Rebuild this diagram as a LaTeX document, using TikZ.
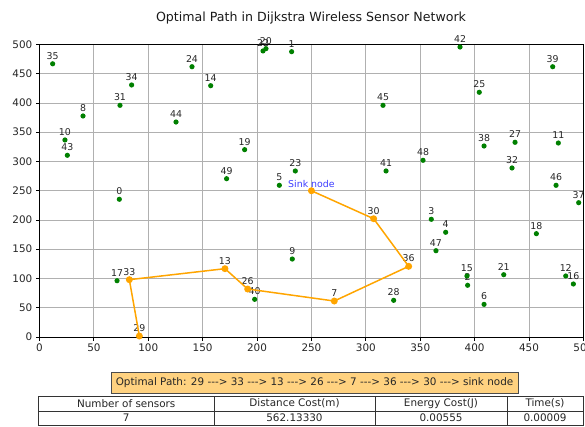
\documentclass[tikz,border=0pt]{standalone}
\usepackage{fontspec}
\setmainfont{DejaVu Sans}
\definecolor{mplgreen}{HTML}{008000}
\definecolor{mplorange}{HTML}{FFA500}
\definecolor{boxfill}{HTML}{FFD280}
\definecolor{gridgray}{HTML}{B0B0B0}
\definecolor{sinkblue}{HTML}{3C3CFF}
\newcommand{\myarr}{-\kern0pt-\kern0pt->}
\begin{document}
\begin{tikzpicture}[x=1pt,y=1pt,
  gdot/.style={circle,fill=mplgreen,inner sep=0pt,minimum size=5.2pt},
  odot/.style={circle,fill=mplorange,inner sep=0pt,minimum size=7pt},
  ptlabel/.style={anchor=base,inner sep=0pt,font=\fontsize{9.4}{11}\selectfont,text=black!85},
  ticklbl/.style={inner sep=0pt,font=\fontsize{10.4}{12}\selectfont,text=black!85},
  pathline/.style={draw=mplorange,line width=1.5pt,line join=round},
  cell/.style={inner sep=0pt,font=\fontsize{10.4}{12}\selectfont,text=black!85}
]
\useasboundingbox (0,0) rectangle (585,426);
% title
\node[anchor=base,inner sep=0pt,font=\fontsize{12.6}{14}\selectfont,text=black!90] (title) at (311,404.3) {Optimal Path in Dijkstra Wireless Sensor Network};
\begin{scope}[shift={(39.5,89)},x=1.0877pt,y=0.585pt]
  % grid
  \foreach \v in {0,50,...,500}{
    \draw[gridgray,line width=0.8pt] (\v,0) -- (\v,500);
    \draw[gridgray,line width=0.8pt] (0,\v) -- (500,\v);
    \draw[black,line width=0.8pt] (\v,0) -- ++(0,-3.5pt);
    \draw[black,line width=0.8pt] (0,\v) -- ++(-3.5pt,0);
    \node[ticklbl,anchor=north] (xt\v) at ([yshift=-7pt]\v,0) {\v};
    \node[ticklbl,anchor=base east] (yt\v) at ([xshift=-7pt,yshift=-3.7pt]0,\v) {\v};
  }
  \draw[black,line width=0.8pt] (0,0) rectangle (500,500);
  % green sensors
  \foreach \n/\a/\b in {0/73.4/235.4, 1/231.8/487.7, 2/393.6/88.4, 3/360.2/201.2, 4/373.4/179, 5/220.5/259.3, 6/408.7/55.8, 8/40/377.8, 9/232.4/133.3, 10/23.4/336.8, 11/477/331.6, 12/483.8/104.3, 14/157.4/429.6, 15/393/104.3, 16/490.8/90.6, 17/71.3/96.2, 18/456.8/176.6, 19/188.6/320.2, 20/208.2/492.9, 21/426.8/106.5, 22/205.5/489, 23/235.2/283.8, 24/140.2/462, 25/404.3/418.3, 27/437.2/332.8, 28/325.6/62.7, 31/74/396, 32/434.4/288.9, 34/84.7/430.8, 35/12.1/467, 37/495.7/229.6, 38/408.7/326.5, 39/471.8/462, 40/197.8/64.4, 41/318.6/283.8, 42/386.6/495.7, 43/25.6/310.6, 44/125.5/367.5, 45/315.8/396, 46/474.9/259.3, 47/364.5/147.5, 48/352.6/302, 49/172/270.6}{
    \node[gdot] (n\n) at (\a,\b) {};
    \node[ptlabel] (l\n) at ([yshift=4.5pt]n\n.center) {\n};
  }
  % path sensors
  \foreach \n/\a/\b in {29/91.8/1.7, 33/82.6/98, 13/170.5/116.8, 26/191.4/82, 7/271/61.5, 36/339.4/120.8, 30/307.2/202.2}{
    \node[odot] (n\n) at (\a,\b) {};
    \node[ptlabel] (l\n) at ([yshift=4.5pt]n\n.center) {\n};
  }
  \node[odot] (sink) at (250,250) {};
  \node[ptlabel,text=sinkblue] (lsink) at ([yshift=3pt]sink.center) {Sink node};
  \draw[pathline] (n29.center) -- (n33.center) -- (n13.center) -- (n26.center) -- (n7.center) -- (n36.center) -- (n30.center) -- (sink.center);
\end{scope}
% path box
\node[draw=black!70,line width=0.8pt,fill=boxfill,minimum width=407pt,minimum height=21pt,inner sep=0pt,font=\fontsize{10.4}{12}\selectfont,text=black!85] (pathbox) at (314.5,43.2) {Optimal Path: 29 \myarr{} 33 \myarr{} 13 \myarr{} 26 \myarr{} 7 \myarr{} 36 \myarr{} 30 \myarr{} sink node};
% table
\draw[black!80,line width=0.9pt] (38.5,0.6) rectangle (583,30);
\draw[black!80,line width=0.9pt] (38.5,15) -- (583,15);
\draw[black!80,line width=0.9pt] (214,0.6) -- (214,30);
\draw[black!80,line width=0.9pt] (375,0.6) -- (375,30);
\draw[black!80,line width=0.9pt] (507,0.6) -- (507,30);
\node[cell] (h1) at (126.25,22.5) {Number of sensors};
\node[cell] (h2) at (294.5,22.5) {Distance Cost(m)};
\node[cell] (h3) at (441,22.5) {Energy Cost(J)};
\node[cell] (h4) at (545,22.5) {Time(s)};
\node[cell] (d1) at (126.25,7.8) {7};
\node[cell] (d2) at (294.5,7.8) {562.13330};
\node[cell] (d3) at (441,7.8) {0.00555};
\node[cell] (d4) at (545,7.8) {0.00009};
\end{tikzpicture}
\end{document}
